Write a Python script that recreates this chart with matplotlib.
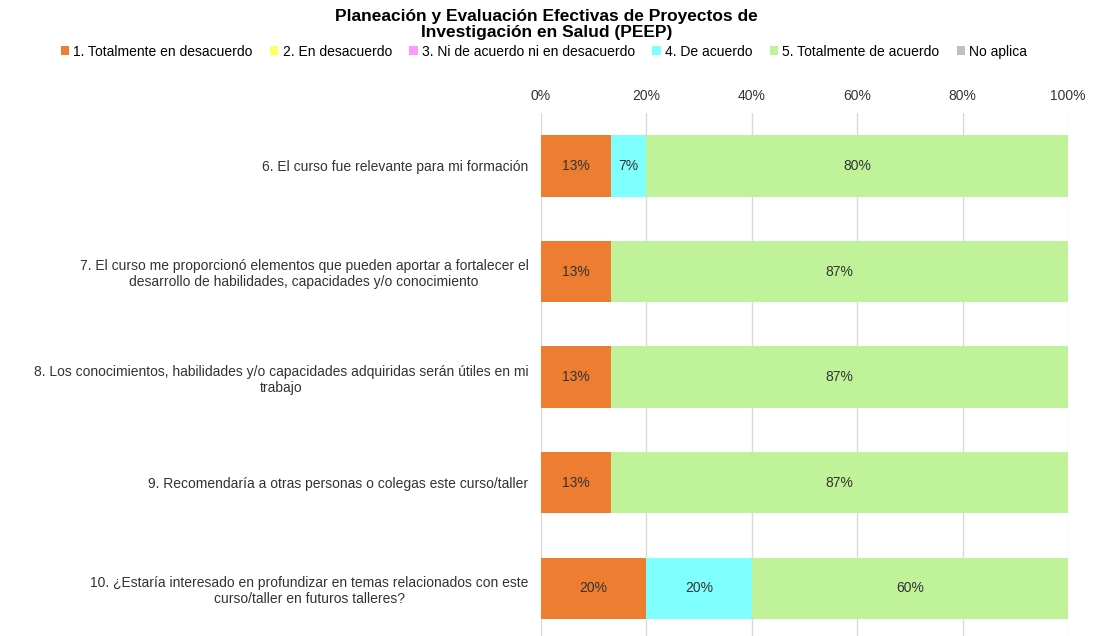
import numpy as np
import matplotlib.pyplot as plt
from matplotlib.patches import Patch

plt.rcParams["font.family"] = ["Liberation Sans", "DejaVu Sans"]

# survey items, top to bottom
questions = [
    "6. El curso fue relevante para mi formación",
    "7. El curso me proporcionó elementos que pueden aportar a fortalecer el\ndesarrollo de habilidades, capacidades y/o conocimiento",
    "8. Los conocimientos, habilidades y/o capacidades adquiridas serán útiles en mi\ntrabajo",
    "9. Recomendaría a otras personas o colegas este curso/taller",
    "10. ¿Estaría interesado en profundizar en temas relacionados con este\ncurso/taller en futuros talleres?",
]
categories = ["1. Totalmente en desacuerdo", "2. En desacuerdo",
              "3. Ni de acuerdo ni en desacuerdo", "4. De acuerdo",
              "5. Totalmente de acuerdo", "No aplica"]
colors = ["#ED7D31", "#FFFF66", "#FF99FF", "#80FFFF", "#C0F299", "#BFBFBF"]

# percentages per category (same order as categories)
totalmente_desacuerdo = [13.3, 13.3, 13.3, 13.3, 20.0]
en_desacuerdo = [0, 0, 0, 0, 0]
ni_ni = [0, 0, 0, 0, 0]
de_acuerdo = [6.7, 0, 0, 0, 20.0]
totalmente_acuerdo = [80.0, 86.7, 86.7, 86.7, 60.0]
no_aplica = [0, 0, 0, 0, 0]
series = [totalmente_desacuerdo, en_desacuerdo, ni_ni, de_acuerdo,
          totalmente_acuerdo, no_aplica]

fig = plt.figure(figsize=(10.99, 6.36), dpi=100)
ax = fig.add_axes([0.4923, -0.0079, 0.4795, 0.830])

y = np.arange(len(questions))
left = np.zeros(len(questions))
for vals, col in zip(series, colors):
    vals = np.array(vals, dtype=float)
    ax.barh(y, vals, left=left, height=0.58, color=col, zorder=2)
    for yi, (l, v) in enumerate(zip(left, vals)):
        if v > 0:
            ax.text(l + v / 2, yi, f"{v:.0f}%", ha="center", va="center",
                    fontsize=10, color="#333333", zorder=3)
    left += vals

ax.set_xlim(0, 100)
ax.set_ylim(len(questions) - 0.5, -0.5)
ax.set_xticks(np.arange(0, 101, 20))
ax.set_xticklabels([f"{t}%" for t in range(0, 101, 20)])
ax.xaxis.tick_top()
ax.tick_params(axis="x", length=0, pad=7, labelsize=10, labelcolor="#333333")
ax.set_yticks(y)
ax.set_yticklabels(questions, multialignment="center")
ax.tick_params(axis="y", length=0, pad=9, labelsize=10, labelcolor="#333333")
ax.grid(axis="x", color="#D9D9D9", linewidth=1, zorder=0)
for s in ax.spines.values():
    s.set_visible(False)

fig.text(0.497, 0.986,
         "Planeación y Evaluación Efectivas de Proyectos de\nInvestigación en Salud (PEEP)",
         ha="center", va="top", fontsize=12.5, fontweight="bold", linespacing=1.1)

handles = [Patch(facecolor=c, edgecolor="none") for c in colors]
fig.legend(handles, categories, loc="center", bbox_to_anchor=(0.495, 0.919),
           ncol=6, frameon=False, fontsize=10, handlelength=0.6,
           handleheight=0.6, handletextpad=0.3, columnspacing=1.25,
           labelcolor="#000000")

fig.savefig("out.png", dpi=100)
